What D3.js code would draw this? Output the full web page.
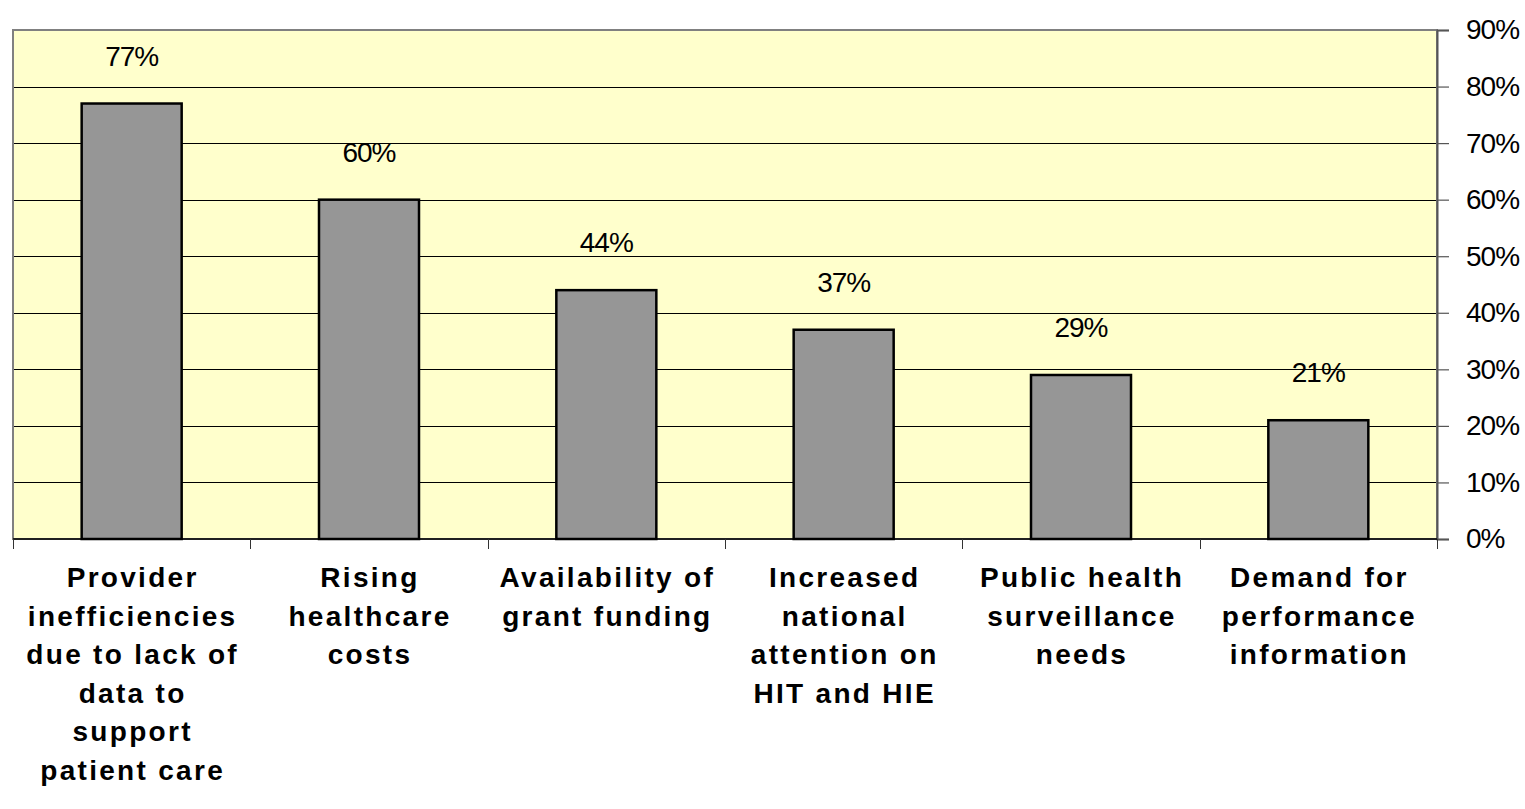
<!DOCTYPE html>
<html>
<head>
<meta charset="utf-8">
<script src="https://cdn.jsdelivr.net/npm/d3@7"></script>
<style>
  html, body { margin: 0; padding: 0; background: #ffffff; }
  svg { display: block; }
</style>
</head>
<body>
<svg id="chart" width="1525" height="809"></svg>
<script>
// Drivers of health information exchange, share of respondents
const categories = [
  ["Provider", "inefficiencies", "due to lack of", "data to", "support", "patient care"],
  ["Rising", "healthcare", "costs"],
  ["Availability of", "grant funding"],
  ["Increased", "national", "attention on", "HIT and HIE"],
  ["Public health", "surveillance", "needs"],
  ["Demand for", "performance", "information"]
];
const values = [77, 60, 44, 37, 29, 21];
const yTicks = [0, 10, 20, 30, 40, 50, 60, 70, 80, 90];

const svg = d3.select("#chart");
const plot = { left: 13, right: 1437, top: 30, bottom: 539 };
const font = "Liberation Sans, Arial, sans-serif";

const x = d3.scaleBand()
  .domain(d3.range(values.length))
  .range([plot.left, plot.right])
  .paddingInner(0)
  .paddingOuter(0);

const y = d3.scaleLinear()
  .domain([0, 90])
  .range([plot.bottom, plot.top]);

// plot background
svg.append("rect")
  .attr("x", plot.left).attr("y", plot.top)
  .attr("width", plot.right - plot.left)
  .attr("height", plot.bottom - plot.top)
  .attr("fill", "#FFFFCC");

// gridlines
svg.append("g")
  .selectAll("line")
  .data(yTicks.filter(d => d > 0 && d < 90))
  .join("line")
  .attr("x1", plot.left).attr("x2", plot.right)
  .attr("y1", d => Math.round(y(d)) + 0.5).attr("y2", d => Math.round(y(d)) + 0.5)
  .attr("stroke", "#000").attr("stroke-width", 1);

// plot border
svg.append("rect")
  .attr("x", plot.left).attr("y", plot.top)
  .attr("width", plot.right - plot.left)
  .attr("height", plot.bottom - plot.top)
  .attr("fill", "none")
  .attr("stroke", "#808080").attr("stroke-width", 2);

// bars
const barW = 100;
svg.append("g")
  .selectAll("rect")
  .data(values)
  .join("rect")
  .attr("x", (d, i) => x(i) + x.bandwidth() / 2 - barW / 2)
  .attr("y", d => y(d))
  .attr("width", barW)
  .attr("height", d => y(0) - y(d))
  .attr("fill", "#969696")
  .attr("stroke", "#000").attr("stroke-width", 2.5);

// value labels
svg.append("g")
  .selectAll("text")
  .data(values)
  .join("text")
  .attr("x", (d, i) => x(i) + x.bandwidth() / 2)
  .attr("y", d => y(d) - 38)
  .attr("text-anchor", "middle")
  .attr("font-family", font)
  .attr("font-size", 28)
  .attr("letter-spacing", -1)
  .attr("fill", "#000")
  .text(d => d + "%");

// right value axis
const yAxis = d3.axisRight(y)
  .tickValues(yTicks)
  .tickSize(12)
  .tickPadding(17)
  .tickFormat(d => d + "%");
const ya = svg.append("g")
  .attr("transform", `translate(${plot.right},0)`)
  .call(yAxis);
ya.select(".domain").attr("stroke", "#555").attr("stroke-width", 2);
ya.selectAll(".tick line").attr("stroke", "#555").attr("stroke-width", 1.2);
ya.selectAll(".tick text")
  .attr("font-family", font)
  .attr("font-size", 28)
  .attr("letter-spacing", -1)
  .attr("fill", "#000");

// bottom category axis ticks at band edges
const edges = d3.range(values.length + 1).map(i => i < values.length ? x(i) : plot.right);
svg.append("line")
  .attr("x1", plot.left).attr("x2", plot.right)
  .attr("y1", plot.bottom).attr("y2", plot.bottom)
  .attr("stroke", "#000").attr("stroke-width", 1.5);
svg.append("g")
  .selectAll("line")
  .data(edges)
  .join("line")
  .attr("x1", d => Math.round(d) + 0.5).attr("x2", d => Math.round(d) + 0.5)
  .attr("y1", plot.bottom).attr("y2", plot.bottom + 10)
  .attr("stroke", "#333").attr("stroke-width", 1);

// category labels
const lab = svg.append("g")
  .selectAll("text")
  .data(categories)
  .join("text")
  .attr("text-anchor", "middle")
  .attr("font-family", font)
  .attr("font-weight", "bold")
  .attr("font-size", 28)
  .attr("letter-spacing", 2.3)
  .attr("fill", "#000");
lab.selectAll("tspan")
  .data((d, i) => d.map(t => ({ t, i })))
  .join("tspan")
  .attr("x", d => x(d.i) + x.bandwidth() / 2 + 1)
  .attr("y", (d, j) => 587 + j * 38.6)
  .text(d => d.t);
</script>
</body>
</html>
